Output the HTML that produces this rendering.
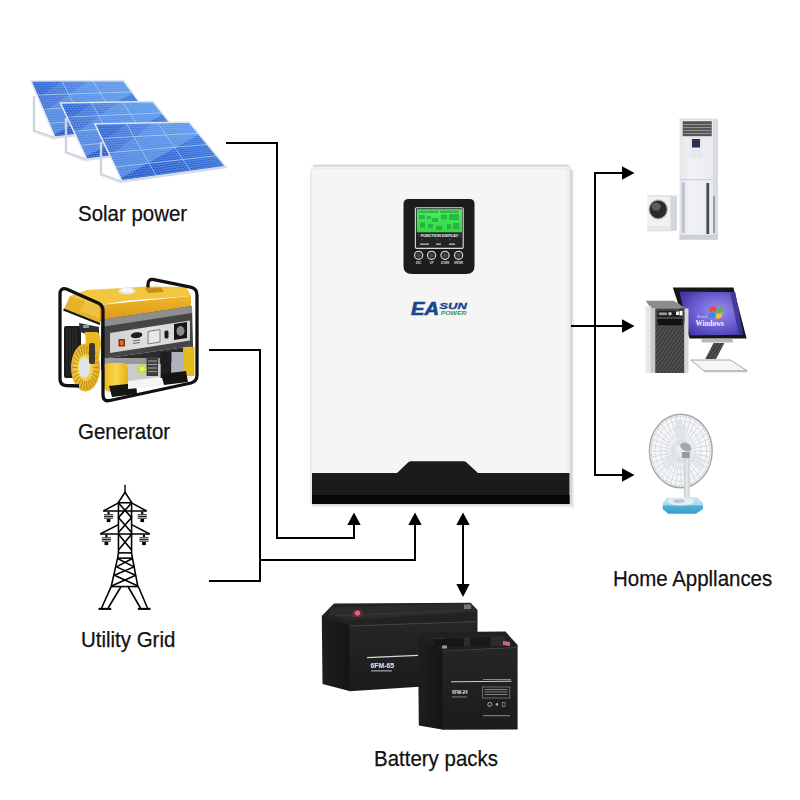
<!DOCTYPE html>
<html><head><meta charset="utf-8">
<style>
html,body{margin:0;padding:0;background:#fff;}
body{width:800px;height:800px;position:relative;overflow:hidden;font-family:"Liberation Sans",sans-serif;}
.lbl{position:absolute;font-size:22px;line-height:23px;color:#111;white-space:nowrap;transform:scaleX(0.93);transform-origin:0 0;-webkit-text-stroke:0.25px #111;}
svg{position:absolute;left:0;top:0;}
</style></head><body>
<svg width="800" height="800" viewBox="0 0 800 800">
<defs><linearGradient id="pg" x1="0" y1="1" x2="1" y2="0"><stop offset="0" stop-color="#1b48c2"/><stop offset="0.5" stop-color="#2960d2"/><stop offset="1" stop-color="#3c80e0"/></linearGradient>
<linearGradient id="gtankf" x1="0" y1="0" x2="0" y2="1"><stop offset="0" stop-color="#f0b72a"/><stop offset="1" stop-color="#d9961a"/></linearGradient>
<linearGradient id="gpanel" x1="0" y1="0" x2="1" y2="0"><stop offset="0" stop-color="#cfcfcf"/><stop offset="0.5" stop-color="#e2e2e2"/><stop offset="1" stop-color="#d0d0d0"/></linearGradient>
<radialGradient id="gfan" cx="0.45" cy="0.5" r="0.55"><stop offset="0.35" stop-color="#f6d55a"/><stop offset="1" stop-color="#e0a818"/></radialGradient>
<linearGradient id="gcyl" x1="0" y1="0" x2="1" y2="0"><stop offset="0" stop-color="#e9b820"/><stop offset="0.5" stop-color="#f7d648"/><stop offset="1" stop-color="#e2b21c"/></linearGradient>
<linearGradient id="invbody" x1="0" y1="0" x2="1" y2="0"><stop offset="0" stop-color="#efefef"/><stop offset="0.015" stop-color="#f5f5f5"/><stop offset="0.97" stop-color="#f5f5f5"/><stop offset="1" stop-color="#e8e8e8"/></linearGradient><linearGradient id="shd" x1="0" y1="0" x2="0" y2="1"><stop offset="0" stop-color="#d0d0d0"/><stop offset="1" stop-color="#ffffff" stop-opacity="0"/></linearGradient><linearGradient id="shr" x1="0" y1="0" x2="1" y2="0"><stop offset="0" stop-color="#dcdcdc"/><stop offset="1" stop-color="#ffffff" stop-opacity="0"/></linearGradient><linearGradient id="lcdg" x1="0" y1="0" x2="0" y2="1"><stop offset="0" stop-color="#49f060"/><stop offset="1" stop-color="#2fd84a"/></linearGradient>
<linearGradient id="acfront" x1="0" y1="0" x2="1" y2="0"><stop offset="0" stop-color="#e4e6ea"/><stop offset="0.3" stop-color="#f1f2f4"/><stop offset="1" stop-color="#e8eaee"/></linearGradient>
<radialGradient id="scr" cx="0.6" cy="0.45" r="0.7"><stop offset="0" stop-color="#9a90ec"/><stop offset="0.55" stop-color="#6a5cd0"/><stop offset="1" stop-color="#3c32a0"/></radialGradient>
<pattern id="hatch" width="3" height="3" patternUnits="userSpaceOnUse" patternTransform="rotate(35)"><rect width="3" height="3" fill="#3a3a3a"/><rect width="1.2" height="3" fill="#5a5a5a"/></pattern>
<linearGradient id="fanbase" x1="0" y1="0" x2="0" y2="1"><stop offset="0" stop-color="#cfeaf3"/><stop offset="0.45" stop-color="#a9d9ea"/><stop offset="0.55" stop-color="#4fb0d6"/><stop offset="1" stop-color="#3a9ccc"/></linearGradient>

<linearGradient id="bfront" x1="0" y1="0" x2="0" y2="1"><stop offset="0" stop-color="#262626"/><stop offset="1" stop-color="#1b1b1b"/></linearGradient>
<linearGradient id="bside" x1="0" y1="0" x2="1" y2="0"><stop offset="0" stop-color="#1e1e1e"/><stop offset="1" stop-color="#141414"/></linearGradient>
</defs>
<polyline points="34,96 34,131 55.0,138.0" fill="none" stroke="#cdd4dd" stroke-width="2.4"/><line x1="35" y1="132.5" x2="55.0" y2="139.5" stroke="#e6e9ee" stroke-width="1.5"/><polygon points="31.00,81.00 123.50,80.50 157.00,126.00 55.00,137.50" fill="url(#pg)" /><polygon points="44.20,112.08 88.35,80.69 123.50,80.50 132.88,93.24 53.80,134.68" fill="#8cc8ff" opacity="0.42"/><polygon points="63.38,80.83 88.35,80.69 44.20,112.08 38.20,97.95" fill="#ffffff" opacity="0.12"/><path d="M33.57,80.99L57.83,137.18M36.14,80.97L60.67,136.86M38.71,80.96L63.50,136.54M41.28,80.94L66.33,136.22M43.85,80.93L69.17,135.90M46.42,80.92L72.00,135.58M48.99,80.90L74.83,135.26M51.56,80.89L77.67,134.94M54.12,80.88L80.50,134.62M56.69,80.86L83.33,134.31M59.26,80.85L86.17,133.99M64.40,80.82L91.83,133.35M66.97,80.81L94.67,133.03M69.54,80.79L97.50,132.71M72.11,80.78L100.33,132.39M74.68,80.76L103.17,132.07M77.25,80.75L106.00,131.75M79.82,80.74L108.83,131.43M82.39,80.72L111.67,131.11M84.96,80.71L114.50,130.79M87.53,80.69L117.33,130.47M90.10,80.68L120.17,130.15M95.24,80.65L125.83,129.51M97.81,80.64L128.67,129.19M100.38,80.62L131.50,128.88M102.94,80.61L134.33,128.56M105.51,80.60L137.17,128.24M108.08,80.58L140.00,127.92M110.65,80.57L142.83,127.60M113.22,80.56L145.67,127.28M115.79,80.54L148.50,126.96M118.36,80.53L151.33,126.64M120.93,80.51L154.17,126.32M32.00,83.35L124.90,82.40M33.00,85.71L126.29,84.29M34.00,88.06L127.69,86.19M35.00,90.42L129.08,88.08M36.00,92.77L130.48,89.98M38.00,97.48L133.27,93.77M39.00,99.83L134.67,95.67M40.00,102.19L136.06,97.56M41.00,104.54L137.46,99.46M42.00,106.90L138.85,101.35M44.00,111.60L141.65,105.15M45.00,113.96L143.04,107.04M46.00,116.31L144.44,108.94M47.00,118.67L145.83,110.83M48.00,121.02L147.23,112.73M50.00,125.73L150.02,116.52M51.00,128.08L151.42,118.42M52.00,130.44L152.81,120.31M53.00,132.79L154.21,122.21M54.00,135.15L155.60,124.10" stroke="#92b8f2" stroke-width="0.45" opacity="0.8" fill="none"/><path d="M61.83,80.83L89.00,133.67M92.67,80.67L123.00,129.83M37.00,95.12L131.88,91.88M43.00,109.25L140.25,103.25M49.00,123.38L148.62,114.62" stroke="#a9cdf6" stroke-width="0.9" fill="none"/><polygon points="31.00,81.00 123.50,80.50 157.00,126.00 55.00,137.50" fill="none" stroke="#dfe7f1" stroke-width="1.6"/><line x1="55.0" y1="137.5" x2="157.0" y2="126.0" stroke="#d4dce6" stroke-width="2.6"/><polyline points="66,118 66,152.5 87.0,160.0" fill="none" stroke="#cdd4dd" stroke-width="2.4"/><line x1="67" y1="154.0" x2="87.0" y2="161.5" stroke="#e6e9ee" stroke-width="1.5"/><polygon points="60.50,103.00 153.00,101.50 189.00,147.00 87.00,159.50" fill="url(#pg)" /><polygon points="75.08,134.07 117.85,102.07 153.00,101.50 163.08,114.24 85.67,156.68" fill="#8cc8ff" opacity="0.42"/><polygon points="92.88,102.47 117.85,102.07 75.08,134.07 68.45,119.95" fill="#ffffff" opacity="0.12"/><path d="M63.07,102.96L89.83,159.15M65.64,102.92L92.67,158.81M68.21,102.88L95.50,158.46M70.78,102.83L98.33,158.11M73.35,102.79L101.17,157.76M75.92,102.75L104.00,157.42M78.49,102.71L106.83,157.07M81.06,102.67L109.67,156.72M83.62,102.62L112.50,156.38M86.19,102.58L115.33,156.03M88.76,102.54L118.17,155.68M93.90,102.46L123.83,154.99M96.47,102.42L126.67,154.64M99.04,102.38L129.50,154.29M101.61,102.33L132.33,153.94M104.18,102.29L135.17,153.60M106.75,102.25L138.00,153.25M109.32,102.21L140.83,152.90M111.89,102.17L143.67,152.56M114.46,102.12L146.50,152.21M117.03,102.08L149.33,151.86M119.60,102.04L152.17,151.51M124.74,101.96L157.83,150.82M127.31,101.92L160.67,150.47M129.88,101.88L163.50,150.12M132.44,101.83L166.33,149.78M135.01,101.79L169.17,149.43M137.58,101.75L172.00,149.08M140.15,101.71L174.83,148.74M142.72,101.67L177.67,148.39M145.29,101.62L180.50,148.04M147.86,101.58L183.33,147.69M150.43,101.54L186.17,147.35M61.60,105.35L154.50,103.40M62.71,107.71L156.00,105.29M63.81,110.06L157.50,107.19M64.92,112.42L159.00,109.08M66.02,114.77L160.50,110.98M68.23,119.48L163.50,114.77M69.33,121.83L165.00,116.67M70.44,124.19L166.50,118.56M71.54,126.54L168.00,120.46M72.65,128.90L169.50,122.35M74.85,133.60L172.50,126.15M75.96,135.96L174.00,128.04M77.06,138.31L175.50,129.94M78.17,140.67L177.00,131.83M79.27,143.02L178.50,133.73M81.48,147.73L181.50,137.52M82.58,150.08L183.00,139.42M83.69,152.44L184.50,141.31M84.79,154.79L186.00,143.21M85.90,157.15L187.50,145.10" stroke="#92b8f2" stroke-width="0.45" opacity="0.8" fill="none"/><path d="M91.33,102.50L121.00,155.33M122.17,102.00L155.00,151.17M67.12,117.12L162.00,112.88M73.75,131.25L171.00,124.25M80.38,145.38L180.00,135.62" stroke="#a9cdf6" stroke-width="0.9" fill="none"/><polygon points="60.50,103.00 153.00,101.50 189.00,147.00 87.00,159.50" fill="none" stroke="#dfe7f1" stroke-width="1.6"/><line x1="87.0" y1="159.5" x2="189.0" y2="147.0" stroke="#d4dce6" stroke-width="2.6"/><polyline points="101,142 101,174.5 122.0,181.9" fill="none" stroke="#cdd4dd" stroke-width="2.4"/><line x1="102" y1="176.0" x2="122.0" y2="183.4" stroke="#e6e9ee" stroke-width="1.5"/><polygon points="95.00,124.00 189.00,122.00 226.00,167.00 122.00,181.40" fill="url(#pg)" /><polygon points="109.85,155.57 153.28,122.76 189.00,122.00 199.36,134.60 120.65,178.53" fill="#8cc8ff" opacity="0.42"/><polygon points="127.90,123.30 153.28,122.76 109.85,155.57 103.10,141.22" fill="#ffffff" opacity="0.12"/><path d="M97.61,123.94L124.89,181.00M100.22,123.89L127.78,180.60M102.83,123.83L130.67,180.20M105.44,123.78L133.56,179.80M108.06,123.72L136.44,179.40M110.67,123.67L139.33,179.00M113.28,123.61L142.22,178.60M115.89,123.56L145.11,178.20M118.50,123.50L148.00,177.80M121.11,123.44L150.89,177.40M123.72,123.39L153.78,177.00M128.94,123.28L159.56,176.20M131.56,123.22L162.44,175.80M134.17,123.17L165.33,175.40M136.78,123.11L168.22,175.00M139.39,123.06L171.11,174.60M142.00,123.00L174.00,174.20M144.61,122.94L176.89,173.80M147.22,122.89L179.78,173.40M149.83,122.83L182.67,173.00M152.44,122.78L185.56,172.60M155.06,122.72L188.44,172.20M160.28,122.61L194.22,171.40M162.89,122.56L197.11,171.00M165.50,122.50L200.00,170.60M168.11,122.44L202.89,170.20M170.72,122.39L205.78,169.80M173.33,122.33L208.67,169.40M175.94,122.28L211.56,169.00M178.56,122.22L214.44,168.60M181.17,122.17L217.33,168.20M183.78,122.11L220.22,167.80M186.39,122.06L223.11,167.40M96.12,126.39L190.54,123.88M97.25,128.78L192.08,125.75M98.38,131.18L193.62,127.62M99.50,133.57L195.17,129.50M100.62,135.96L196.71,131.38M102.88,140.74L199.79,135.12M104.00,143.13L201.33,137.00M105.12,145.53L202.88,138.88M106.25,147.92L204.42,140.75M107.38,150.31L205.96,142.62M109.62,155.09L209.04,146.38M110.75,157.48L210.58,148.25M111.88,159.88L212.12,150.12M113.00,162.27L213.67,152.00M114.12,164.66L215.21,153.88M116.38,169.44L218.29,157.62M117.50,171.83L219.83,159.50M118.62,174.23L221.38,161.38M119.75,176.62L222.92,163.25M120.88,179.01L224.46,165.12" stroke="#92b8f2" stroke-width="0.45" opacity="0.8" fill="none"/><path d="M126.33,123.33L156.67,176.60M157.67,122.67L191.33,171.80M101.75,138.35L198.25,133.25M108.50,152.70L207.50,144.50M115.25,167.05L216.75,155.75" stroke="#a9cdf6" stroke-width="0.9" fill="none"/><polygon points="95.00,124.00 189.00,122.00 226.00,167.00 122.00,181.40" fill="none" stroke="#dfe7f1" stroke-width="1.6"/><line x1="122.0" y1="181.4" x2="226.0" y2="167.0" stroke="#d4dce6" stroke-width="2.6"/><g transform="translate(95,480) scale(0.08749)" fill="none" stroke="#000" stroke-linecap="butt" stroke-linejoin="miter"><polyline points="343,55 343,140" stroke-width="16"/><polyline points="268,255 343,140 418,255" stroke-width="18"/><polyline points="268,260 418,260" stroke-width="18"/><polyline points="268,250 268,833" stroke-width="18"/><polyline points="418,250 418,833" stroke-width="18"/><polyline points="95,355 590,355" stroke-width="18"/><polyline points="95,355 268,262" stroke-width="18"/><polyline points="590,355 418,262" stroke-width="18"/><polyline points="268,262 418,430 268,600" stroke-width="18"/><polyline points="418,262 268,430 418,600" stroke-width="18"/><polyline points="60,618 625,618" stroke-width="18"/><polyline points="60,618 268,510" stroke-width="18"/><polyline points="625,618 418,510" stroke-width="18"/><polyline points="268,620 418,800" stroke-width="18"/><polyline points="418,620 268,800" stroke-width="18"/><polyline points="268,833 418,833" stroke-width="18"/><polyline points="258,893 428,893" stroke-width="18"/><polyline points="268,833 258,893 185,1218" stroke-width="18"/><polyline points="418,833 428,893 490,1218" stroke-width="18"/><polyline points="180,1218 495,1218" stroke-width="18"/><polyline points="258,898 445,993" stroke-width="18"/><polyline points="428,898 245,993" stroke-width="18"/><polyline points="245,993 465,1088" stroke-width="18"/><polyline points="445,993 222,1088" stroke-width="18"/><polyline points="222,1088 485,1208" stroke-width="18"/><polyline points="465,1088 195,1208" stroke-width="18"/><polyline points="185,1218 75,1463" stroke-width="18"/><polyline points="295,1223 150,1463" stroke-width="18"/><polyline points="380,1223 520,1463" stroke-width="18"/><polyline points="495,1218 600,1463" stroke-width="18"/><polyline points="40,1473 185,1473" stroke-width="24"/><polyline points="490,1473 635,1473" stroke-width="24"/><g stroke="none"><rect x="143" y="362" width="24" height="28" fill="#000"/><line x1="103" y1="397" x2="207" y2="397" stroke="#222" stroke-width="11"/><line x1="103" y1="417" x2="207" y2="417" stroke="#222" stroke-width="15"/><line x1="103" y1="437" x2="207" y2="437" stroke="#222" stroke-width="11"/><rect x="134" y="445" width="42" height="36" fill="#000"/><rect x="528" y="362" width="24" height="28" fill="#000"/><line x1="488" y1="397" x2="592" y2="397" stroke="#222" stroke-width="11"/><line x1="488" y1="417" x2="592" y2="417" stroke="#222" stroke-width="15"/><line x1="488" y1="437" x2="592" y2="437" stroke="#222" stroke-width="11"/><rect x="519" y="445" width="42" height="36" fill="#000"/><rect x="118" y="625" width="24" height="28" fill="#000"/><line x1="78" y1="660" x2="182" y2="660" stroke="#222" stroke-width="11"/><line x1="78" y1="680" x2="182" y2="680" stroke="#222" stroke-width="15"/><line x1="78" y1="700" x2="182" y2="700" stroke="#222" stroke-width="11"/><rect x="109" y="708" width="42" height="36" fill="#000"/><rect x="548" y="625" width="24" height="28" fill="#000"/><line x1="508" y1="660" x2="612" y2="660" stroke="#222" stroke-width="11"/><line x1="508" y1="680" x2="612" y2="680" stroke="#222" stroke-width="15"/><line x1="508" y1="700" x2="612" y2="700" stroke="#222" stroke-width="11"/><rect x="539" y="708" width="42" height="36" fill="#000"/></g></g>
<g id="generator">
  <!-- rear engine block -->
  <rect x="64" y="326" width="17" height="52" rx="2" fill="#1c1c1c"/>
  <g stroke="#3a3a3a" stroke-width="0.8">
    <line x1="67" y1="328" x2="67" y2="376"/><line x1="70" y1="328" x2="70" y2="376"/><line x1="73" y1="328" x2="73" y2="376"/><line x1="76" y1="328" x2="76" y2="376"/>
  </g>
  <polygon points="79,323 99,327 99,334 90,335 80,332" fill="#2e2e2e"/>
  <rect x="83" y="325" width="6" height="3" fill="#9a9a9a"/>
  <!-- tank -->
  <polygon points="70,296 87,290 148,286.5 186,287 191,296 128,300.5 100,305" fill="#f2c63e"/>
  <polygon points="100,305 191,296 191,308 100,322" fill="url(#gtankf)"/>
  <polygon points="70,296 100,305 100,323 64,309" fill="#e8b328"/>
  <polygon points="86,300 99,304 99,318 80,311" fill="#f3cc52" opacity="0.6"/>
  <ellipse cx="127" cy="291" rx="8.5" ry="3.6" fill="#e6e6e6"/>
  <ellipse cx="127" cy="290" rx="6" ry="2.2" fill="#f7f7f7"/>
  <polygon points="145,288 161,287.5 164,292 148,293" fill="#c98f1a"/>
  <!-- housing -->
  <polygon points="101,320 192,306 193,346 101,359" fill="#454545"/>
  <polygon points="101,320 192,306 192,313 101,327" fill="#8e8e8e"/>
  <polygon points="110,333 190,320.5 190,340.5 110,353" fill="url(#gpanel)"/>
  <rect x="118.5" y="339" width="6.5" height="7.5" fill="#7a3a10"/>
  <rect x="120" y="340.5" width="3.5" height="4.5" fill="#e06a20"/>
  <ellipse cx="136.5" cy="335.2" rx="5.8" ry="2.9" fill="#1d1d1d" transform="rotate(-8 136.5 335.2)"/>
  <g stroke="#555" stroke-width="0.9"><line x1="133" y1="341" x2="140" y2="340"/><line x1="133" y1="343.5" x2="140" y2="342.5"/></g>
  <polygon points="148,331.5 160,329.5 160,342 148,344" fill="#e8e8e8" stroke="#7a7a7a" stroke-width="1"/>
  <rect x="164.5" y="330.5" width="4" height="8" rx="1.5" fill="#1a1a1a"/>
  <polygon points="174,324 187,322 187,338 174,340" fill="#151515"/>
  <ellipse cx="180.5" cy="331" rx="4" ry="5" fill="#8a8a8a"/>
  <!-- engine area -->
  <polygon points="101,359 193,346 194,360 101,370" fill="#2c2c2c"/>
  <rect x="104" y="358" width="56" height="24" fill="#cbcbcb"/>
  <rect x="104" y="358" width="56" height="6" fill="#9a9a9a"/>
  <rect x="146.5" y="357" width="11.5" height="19" fill="#3c3c3c"/>
  <g stroke="#9a9a9a" stroke-width="1.2"><line x1="148" y1="361" x2="157" y2="361"/><line x1="148" y1="364.5" x2="157" y2="364.5"/><line x1="148" y1="368" x2="157" y2="368"/><line x1="148" y1="371.5" x2="157" y2="371.5"/></g>
  <rect x="160.5" y="352" width="11" height="26" fill="#1e1e1e"/>
  <rect x="171.5" y="352" width="11.5" height="25" fill="#aeb0ba"/>
  <rect x="183" y="347" width="11.5" height="29" fill="#e4bb1e"/>
  <rect x="104" y="363" width="24" height="29" rx="6" fill="url(#gcyl)"/>
  <circle cx="142" cy="369" r="4.6" fill="#cfd838"/>
  <circle cx="142" cy="369" r="2.5" fill="#e9ee70"/>
  <!-- feet -->
  <polygon points="109,386 136,383 137,394 112,397" fill="#151515"/>
  <polygon points="161,374 186,371 188,382 164,385" fill="#151515"/>
  <polygon points="128,381 160,377 161,386 128,389" fill="#f4f4f4"/>
  <!-- fan cover -->
  <path d="M85,332 L97,332 Q101,334 101,345 L99,360 L86,344 Z" fill="#e9b825"/>
  <ellipse cx="85.5" cy="367.5" rx="14.5" ry="24" fill="url(#gfan)"/>
  <g stroke="#b37f10" stroke-width="1.1" opacity="0.8" id="ribs"><line x1="93.5" y1="367.5" x2="98.7" y2="367.5"/><line x1="93.3" y1="370.7" x2="98.3" y2="372.8"/><line x1="92.6" y1="373.8" x2="97.2" y2="377.7"/><line x1="91.5" y1="376.5" x2="95.4" y2="382.1"/><line x1="90.0" y1="378.6" x2="93.0" y2="385.6"/><line x1="88.3" y1="380.1" x2="90.2" y2="388.1"/><line x1="86.5" y1="380.9" x2="87.1" y2="389.3"/><line x1="84.5" y1="380.9" x2="83.9" y2="389.3"/><line x1="82.7" y1="380.1" x2="80.8" y2="388.1"/><line x1="81.0" y1="378.6" x2="78.0" y2="385.6"/><line x1="79.5" y1="376.5" x2="75.6" y2="382.1"/><line x1="78.4" y1="373.8" x2="73.8" y2="377.7"/><line x1="77.7" y1="370.7" x2="72.7" y2="372.8"/><line x1="77.5" y1="367.5" x2="72.3" y2="367.5"/><line x1="77.7" y1="364.3" x2="72.7" y2="362.2"/><line x1="78.4" y1="361.2" x2="73.8" y2="357.3"/><line x1="79.5" y1="358.5" x2="75.6" y2="352.9"/><line x1="81.0" y1="356.4" x2="78.0" y2="349.4"/><line x1="82.7" y1="354.9" x2="80.8" y2="346.9"/><line x1="84.5" y1="354.1" x2="83.9" y2="345.7"/><line x1="86.5" y1="354.1" x2="87.1" y2="345.7"/><line x1="88.3" y1="354.9" x2="90.2" y2="346.9"/><line x1="90.0" y1="356.4" x2="93.0" y2="349.4"/><line x1="91.5" y1="358.5" x2="95.4" y2="352.9"/><line x1="92.6" y1="361.2" x2="97.2" y2="357.3"/><line x1="93.3" y1="364.3" x2="98.3" y2="362.2"/></g>
  <ellipse cx="84.5" cy="367.5" rx="5.8" ry="10" fill="#dfe4ec"/>
  <rect x="89" y="343" width="6" height="21" rx="2" fill="#3b3a2c"/>
  <!-- frame -->
  <path d="M79,386 L66,385.5 Q60,385 60,379 L60,294 Q60,287.5 66.5,289 L98,303 Q103,305 103,311 L103,395 Q103,402 110,400.5 L191,383 Q197,381.5 197,375 L197,295 Q197,288.5 190.5,287.2 L154,279.6 Q148,278.5 148,284.5 L148,287.5"
        fill="none" stroke="#111" stroke-width="3.3" stroke-linejoin="round"/>
  <line x1="63.5" y1="309.5" x2="100" y2="324" stroke="#151515" stroke-width="2"/>
</g>
<g id="inverter">
  <rect x="312" y="504" width="262" height="6" fill="url(#shd)"/>
  <rect x="572" y="170" width="3.5" height="338" fill="url(#shr)"/>
  <path d="M310,171 Q310,164.5 317,164.5 L565,164.5 Q572,164.5 572,171 L572,504 L310,504 Z" fill="url(#invbody)"/>
  <path d="M313,165.8 L569,165.8" stroke="#dcdcdc" stroke-width="2.6"/>
  <path d="M313,168.6 L569,168.6" stroke="#ececec" stroke-width="1.4"/>
  <path d="M571.2,170 L571.2,504" stroke="#d0d0d0" stroke-width="1.6"/>
  <path d="M310.6,172 L310.6,504" stroke="#e4e4e4" stroke-width="1.2"/>
  <path d="M312,473 L397,473 L408.5,462 Q409.5,461.3 411,461.3 L463.5,461.3 Q465,461.3 466,462 L478,473 L569.5,473 L569.5,504 L312,504 Z" fill="#1b1b1b"/>
  <rect x="312" y="495" width="257.5" height="9" fill="#060606"/>
  <!-- LCD panel -->
  <path d="M408.5,199 L469.5,199 Q474.5,199 474.5,204 L474.5,266 Q474.5,274 466,274 L412,274 Q403.5,274 403.5,266 L403.5,204 Q403.5,199 408.5,199 Z" fill="#1c1c1c"/>
  <rect x="415.4" y="207.8" width="47.8" height="40.6" rx="1.2" fill="#242424" stroke="#dedede" stroke-width="1.1"/>
  <rect x="416.8" y="209.2" width="45.2" height="23.1" fill="url(#lcdg)"/>
  <g fill="#1e7a2e" opacity="0.45">
    <rect x="418.5" y="210.5" width="20" height="2.5"/>
    <rect x="440" y="210.5" width="19" height="2.5"/>
    <rect x="419" y="215" width="6" height="4"/>
    <rect x="427" y="216" width="4" height="3"/>
    <rect x="432" y="218" width="6" height="4"/>
    <rect x="441" y="214.5" width="6" height="5"/>
    <rect x="449" y="214" width="10" height="6"/>
    <rect x="420" y="222.5" width="5" height="5"/>
    <rect x="428" y="224" width="5" height="4"/>
    <rect x="436" y="226" width="6" height="4"/>
    <rect x="447" y="224" width="4" height="5"/>
    <rect x="453" y="223" width="6" height="6"/>
  </g>
  <rect x="418" y="234" width="43" height="3.2" fill="#3a3a3a"/>
  <text x="421" y="236.8" font-family="Liberation Sans" font-weight="bold" font-size="3" fill="#e8e8e8" textLength="37" lengthAdjust="spacingAndGlyphs">FUNCTION DISPLAY</text>
  <g fill="#b03030" opacity="0.6"><rect x="421" y="239" width="2" height="1.5"/><rect x="436" y="239" width="2" height="1.5"/><rect x="449" y="239" width="2" height="1.5"/></g>
  <g fill="#bdbdbd"><rect x="420" y="243.5" width="9" height="1.3"/><rect x="436" y="243.5" width="5" height="1.3"/><rect x="449" y="243.5" width="6" height="1.3"/></g>
  <g fill="#2a2a2a" stroke="#e0e0e0" stroke-width="1.1">
    <circle cx="418.6" cy="255.3" r="4.1"/><circle cx="431.6" cy="255.3" r="4.1"/><circle cx="445" cy="255.3" r="4.1"/><circle cx="458.6" cy="255.3" r="4.1"/>
  </g>
  <g fill="#444"><circle cx="418.6" cy="255.3" r="2.2"/><circle cx="431.6" cy="255.3" r="2.2"/><circle cx="445" cy="255.3" r="2.2"/><circle cx="458.6" cy="255.3" r="2.2"/></g>
  <g font-family="Liberation Sans" font-weight="bold" font-size="2.6" fill="#dcdcdc" text-anchor="middle">
    <text x="418.6" y="264.4">ESC</text><text x="431.6" y="264.4">UP</text><text x="445" y="264.4">DOWN</text><text x="458.6" y="264.4">ENTER</text>
  </g>
  <!-- logo -->
  <text x="411" y="315.2" font-family="Liberation Sans" font-weight="bold" font-style="italic" font-size="18" fill="#1a4690" stroke="#1a4690" stroke-width="0.6" textLength="28" lengthAdjust="spacingAndGlyphs">EA</text>
  <text x="439.3" y="308.6" font-family="Liberation Sans" font-weight="bold" font-style="italic" font-size="8.8" fill="#1a4690" stroke="#1a4690" stroke-width="0.3" textLength="27.5" lengthAdjust="spacingAndGlyphs">SUN</text>
  <text x="440.8" y="315.2" font-family="Liberation Sans" font-weight="bold" font-style="italic" font-size="6" fill="#2f9a3a" textLength="25.5" lengthAdjust="spacingAndGlyphs">POWER</text>
</g>
<g id="ac">
  <rect x="679.5" y="119" width="38.5" height="121" fill="url(#acfront)"/>
  <rect x="713" y="119" width="5" height="121" fill="#d8dbe0"/>
  <rect x="679.5" y="118.5" width="38.5" height="1.5" fill="#dcdfe3"/>
  <rect x="682.7" y="121.2" width="29" height="15" fill="#555557"/>
  <g stroke="#9c9c9e" stroke-width="0.9"><line x1="683.5" y1="124.5" x2="711" y2="124.5"/><line x1="683.5" y1="127.5" x2="711" y2="127.5"/><line x1="683.5" y1="130.5" x2="711" y2="130.5"/><line x1="683.5" y1="133.5" x2="711" y2="133.5"/></g>
  <rect x="689" y="137" width="14" height="21" fill="#e6e8ee"/>
  <rect x="692" y="139" width="8" height="8.5" fill="#2e3050"/>
  <line x1="680" y1="179.6" x2="713" y2="179.6" stroke="#cfd2d8" stroke-width="1.2"/>
  <rect x="681.6" y="182.4" width="3.4" height="50.5" fill="#c0c4cc"/>
  <rect x="706.4" y="183" width="2.8" height="51" fill="#454b58"/>
  <rect x="713.2" y="196" width="1.6" height="37" fill="#8a8e98"/>
  <rect x="679.5" y="234.7" width="38.5" height="5" fill="#cdd0d6"/>
</g>
<g id="washer">
  <rect x="647.3" y="195.3" width="23" height="36" fill="#f1f1f2"/>
  <polygon points="670.3,195.3 677,196.5 677,230.5 670.3,231.3" fill="#d5d6d9"/>
  <rect x="647.3" y="195.3" width="29.7" height="1.6" fill="#e0e1e4"/>
  <rect x="647.3" y="226" width="23" height="5.3" fill="#e4e5e8"/>
  <ellipse cx="658.2" cy="209.4" rx="9.8" ry="10.2" fill="#b9bbbf"/>
  <ellipse cx="658.2" cy="209.4" rx="8.6" ry="9" fill="#2a2a2c"/>
  <ellipse cx="656.2" cy="206.6" rx="4.6" ry="4.2" fill="#6a6a6e" opacity="0.8"/>
</g>

<g id="monitor">
  <polygon points="672.8,287.4 733.4,287.4 746.6,338.4 689.6,338.4" fill="#161616"/>
  <polygon points="679.4,291.6 735.2,292.2 743,334.8 690,335.4" fill="url(#scr)"/>
  <polygon points="730,292 735.2,292.2 743,334.8 739,335" fill="#2e2c84" opacity="0.7"/>
  <g transform="translate(710.2,305.5) skewX(-4)">
    <path d="M0,2 Q3,0 6.5,1.5 L6,6.5 Q3,5 0,7 Z" fill="#e84a2a"/>
    <path d="M7.5,1.7 Q10.5,3 13.8,1 L13,6 Q10,8 7,6.7 Z" fill="#5cb830"/>
    <path d="M-0.3,8 Q3,6 5.8,7.6 L5.3,12.6 Q2.5,11 -0.8,13 Z" fill="#2c8ee0"/>
    <path d="M6.8,7.8 Q10,9 12.8,7 L12,12 Q9,14 6.3,12.6 Z" fill="#f2c228"/>
  </g>
  <text x="695.6" y="326" font-family="Liberation Serif" font-size="8.6" font-weight="bold" fill="#f4f0ff" textLength="28.2" lengthAdjust="spacingAndGlyphs">Windows</text>
  <text x="697" y="318.3" font-family="Liberation Sans" font-size="2.6" fill="#e0dcff">Microsoft</text>
  <rect x="701.6" y="339" width="31.2" height="3.6" rx="1" fill="#b8b8bc"/>
  <polygon points="713.6,343 724.4,343 716,359 705.2,359" fill="url(#hatch)"/>
  <polygon points="690.8,360 730.4,360 747.2,370.8 704,370.8" fill="#f6f6f7" stroke="#9a9a9e" stroke-width="0.9"/>
  <line x1="704" y1="371.6" x2="747.2" y2="371.6" stroke="#c0c0c4" stroke-width="1.2"/>
</g>

<g id="pc">
  <polygon points="645.6,300.7 674,300.7 686,308.6 651,308.3" fill="#8c8c8c"/>
  <rect x="645.6" y="306" width="5.5" height="67" fill="#e7e7e8"/>
  <rect x="650.7" y="308" width="4.6" height="65" fill="#c9c9cc"/>
  <rect x="655.2" y="308.3" width="29.3" height="64.7" fill="url(#hatch)"/>
  <rect x="684.5" y="308.5" width="4" height="64.5" fill="#d7d7da"/>
  <rect x="657.5" y="310.8" width="25" height="6.3" fill="#202020"/>
  <rect x="659" y="312.5" width="8" height="2.6" fill="#9a9a9a"/>
  <circle cx="670" cy="313.8" r="1.8" fill="#c8c8c8"/>
  <rect x="676" y="311.5" width="3" height="3.5" fill="#eeeeee"/>
  <rect x="679.5" y="311" width="3" height="4.5" fill="#ffffff"/>
  <rect x="657.5" y="319" width="25" height="6.2" fill="#111"/>
</g>
<g id="fan"><ellipse cx="680.8" cy="451" rx="31.4" ry="36.8" fill="#f5f6f7" stroke="#a4a8ad" stroke-width="1.4"/><ellipse cx="680.8" cy="451" rx="29.4" ry="34.8" fill="none" stroke="#c4c8cc" stroke-width="1.2" stroke-dasharray="1.5 1.5"/><ellipse cx="680.8" cy="451" rx="25.7" ry="30.2" fill="none" stroke="#bfc3c8" stroke-width="0.9" stroke-dasharray="2 1.2" opacity="0.8"/><ellipse cx="680.8" cy="451" rx="20.1" ry="23.6" fill="none" stroke="#bfc3c8" stroke-width="0.9" stroke-dasharray="2 1.2" opacity="0.8"/><ellipse cx="680.8" cy="451" rx="14.4" ry="16.9" fill="none" stroke="#bfc3c8" stroke-width="0.9" stroke-dasharray="2 1.2" opacity="0.7"/><ellipse cx="680.8" cy="451" rx="8.8" ry="10.3" fill="none" stroke="#bfc3c8" stroke-width="0.9" stroke-dasharray="2 1.2" opacity="0.7"/><path d="M685.5,451.0L710.6,451.0M685.4,452.0L710.2,457.1M685.2,452.9L708.8,463.0M684.9,453.8L706.6,468.5M684.4,454.5L703.7,473.5M683.8,455.2L700.0,477.8M683.2,455.8L695.7,481.3M682.4,456.2L691.0,483.9M681.6,456.4L686.0,485.4M680.8,456.5L680.8,486.0M680.0,456.4L675.6,485.4M679.2,456.2L670.6,483.9M678.4,455.8L665.9,481.3M677.8,455.2L661.6,477.8M677.2,454.5L657.9,473.5M676.7,453.8L655.0,468.5M676.4,452.9L652.8,463.0M676.2,452.0L651.4,457.1M676.1,451.0L651.0,451.0M676.2,450.0L651.4,444.9M676.4,449.1L652.8,439.0M676.7,448.2L655.0,433.5M677.2,447.5L657.9,428.5M677.8,446.8L661.6,424.2M678.4,446.2L665.9,420.7M679.2,445.8L670.6,418.1M680.0,445.6L675.6,416.6M680.8,445.5L680.8,416.0M681.6,445.6L686.0,416.6M682.4,445.8L691.0,418.1M683.2,446.2L695.7,420.7M683.8,446.8L700.0,424.2M684.4,447.5L703.7,428.5M684.9,448.2L706.6,433.5M685.2,449.1L708.8,439.0M685.4,450.0L710.2,444.9" stroke="#c6cacf" stroke-width="0.6" fill="none"/><path d="M682.8,449 Q668.8,423 678.8,419 Q690.8,427 682.8,449 Z" fill="#d8e2ec" opacity="0.7"/><path d="M682.8,449 Q706.8,455 704.8,467 Q692.8,471 682.8,449 Z" fill="#d8e2ec" opacity="0.6"/><path d="M682.8,449 Q658.8,457 662.8,469 Q674.8,469 682.8,449 Z" fill="#d8e2ec" opacity="0.6"/><ellipse cx="685.8" cy="447" rx="6" ry="4" fill="#a3aab3" transform="rotate(25 685.8 447)"/><rect x="681.8" y="452" width="8" height="6" fill="#959ca6"/><rect x="683.8" y="458" width="6" height="40" fill="#cfdad8"/><line x1="686.8" y1="459" x2="686.8" y2="497" stroke="#e8efee" stroke-width="1.5"/>
  <path d="M667,498 L697,497 L703,503 L703,509 L696,513.7 L668,513.7 L662.7,509 L662.7,503 Z" fill="url(#fanbase)"/>
  <ellipse cx="681" cy="501.5" rx="13" ry="4" fill="#e6f2f8" opacity="0.9"/>
  <ellipse cx="679" cy="501" rx="6" ry="2" fill="#b8b4c8" opacity="0.7"/>
</g>
<g id="bigbat">
  <polygon points="330,607.5 334,603.5 470.5,602.8 477.5,610 477.5,621.5 349.4,626 321.8,616" fill="#222"/>
  <polygon points="330,607.5 470.5,603 477.5,612 349.4,620 330,615" fill="#2b2b2b"/>
  <polygon points="321.8,615.6 350.4,625.5 350.4,691.3 322.5,684" fill="url(#bside)"/>
  <polygon points="349.4,626 477.5,621.5 477.5,683 349.4,691.3" fill="url(#bfront)"/>
  <line x1="349.4" y1="626" x2="477.5" y2="621.5" stroke="#3e3e3e" stroke-width="1"/>
  <line x1="336" y1="616" x2="470" y2="610" stroke="#3a3a3a" stroke-width="0.8"/>
  <rect x="352.5" y="610" width="10" height="7" rx="2" fill="#6a2a34"/>
  <circle cx="357.5" cy="613" r="2.6" fill="#d86a80"/>
  <rect x="464" y="604.5" width="7" height="4.5" fill="#777"/>
  <line x1="367" y1="657.6" x2="418" y2="655.4" stroke="#d8d8d8" stroke-width="1.1"/>
  <text x="370.5" y="668.2" font-family="Liberation Sans" font-weight="bold" font-size="7" fill="#e6e6e6" textLength="23.5" lengthAdjust="spacingAndGlyphs">6FM-65</text>
  <rect x="371" y="670.2" width="21" height="1.3" fill="#9a9a9a"/>
</g>
<g id="smallbat">
  <polygon points="419.6,634.4 425,632.3 505.4,631.5 517.6,645 517.6,647.5 442.4,651 418.5,640" fill="#202020"/>
  <polygon points="433,638 503,636 510,645.5 437,647" fill="#2c2c2c"/>
  <rect x="434" y="639" width="13" height="8" fill="#161616"/>
  <rect x="446" y="637.8" width="18" height="9" fill="#171717"/>
  <rect x="470" y="637" width="21" height="9.5" fill="#1a1a1a"/>
  <rect x="442" y="645.5" width="5" height="3" fill="#9a9a9a"/>
  <polygon points="503,641 510,642 510,646 503,645" fill="#c8677a"/>
  <polygon points="418,639.5 443.4,650.5 443.4,729.8 418.8,725.4" fill="url(#bside)"/>
  <polygon points="442.4,651 517.6,647.5 517.6,729.5 442.4,729.8" fill="url(#bfront)"/>
  <line x1="442.4" y1="651" x2="517.6" y2="647.5" stroke="#3c3c3c" stroke-width="1"/>
  <line x1="451" y1="681.8" x2="511.5" y2="681.2" stroke="#d0d0d0" stroke-width="1"/>
  <rect x="483" y="679" width="28" height="1" fill="#888"/>
  <text x="452" y="694.3" font-family="Liberation Sans" font-weight="bold" font-size="5" fill="#e0e0e0" textLength="15.5" lengthAdjust="spacingAndGlyphs">6FM-24</text>
  <rect x="452" y="696.5" width="15" height="0.9" fill="#8a8a8a"/>
  <rect x="482.6" y="687" width="27.2" height="11" fill="none" stroke="#8a8a8a" stroke-width="0.7"/>
  <g fill="#9a9a9a"><rect x="484.5" y="689" width="23" height="0.8"/><rect x="484.5" y="691.5" width="23" height="0.8"/><rect x="484.5" y="694" width="23" height="0.8"/></g>
  <circle cx="489.8" cy="704.4" r="2" fill="none" stroke="#c8c8c8" stroke-width="0.8"/>
  <circle cx="497" cy="704.4" r="1.3" fill="#a8a8a8"/>
  <rect x="502.5" y="702.4" width="2.6" height="4" fill="none" stroke="#a8a8a8" stroke-width="0.6"/>
  <rect x="483" y="715.3" width="27" height="0.9" fill="#9a9a9a"/>
</g>


<g stroke="#000" stroke-width="2" fill="none">
  <polyline points="226,143 277,143 277,538 354,538 354,523"/>
  <polyline points="209,350 260,350 260,581 209,581"/>
  <polyline points="260,560 415,560 415,523"/>
  <line x1="463" y1="523" x2="463" y2="586"/>
  <polyline points="571,326 624,326"/>
  <polyline points="624,173 595,173 595,475 624,475"/>
</g>
<g fill="#000">
  <polygon points="354,512.5 347.3,525 360.7,525"/>
  <polygon points="415,512.5 408.3,525 421.7,525"/>
  <polygon points="463,512.5 456.3,525 469.7,525"/>
  <polygon points="463,597 456.3,584 469.7,584"/>
  <polygon points="634.5,173 622,166.3 622,179.7"/>
  <polygon points="634.5,326 622,319.3 622,332.7"/>
  <polygon points="634.5,475 622,468.3 622,481.7"/>
</g>

</svg>

<div class="lbl" style="left:78px;top:201.6px">Solar power</div>
<div class="lbl" style="left:78px;top:420.3px">Generator</div>
<div class="lbl" style="left:80.5px;top:628.2px">Utility Grid</div>
<div class="lbl" style="left:613px;top:566.6px">Home Appllances</div>
<div class="lbl" style="left:374px;top:747px">Battery packs</div>

</body></html>
